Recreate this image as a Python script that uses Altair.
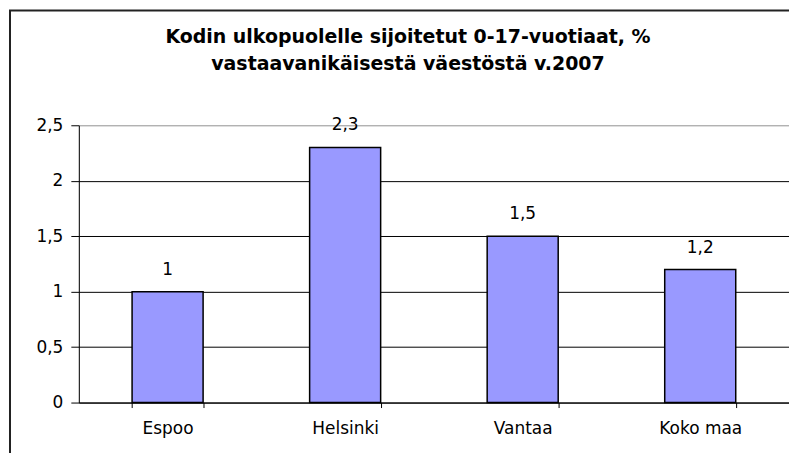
import altair as alt
import pandas as pd

categories = ["Espoo", "Helsinki", "Vantaa", "Koko maa"]
values = [1.0, 2.3, 1.5, 1.2]
labels = ["1", "2,3", "1,5", "1,2"]
title_lines = [
    "Kodin ulkopuolelle sijoitetut 0-17-vuotiaat, %",
    "vastaavanikäisestä väestöstä v.2007",
]

df = pd.DataFrame({"kunta": categories, "arvo": values, "teksti": labels})

FONT = "DejaVu Sans"
FS = 17

x_enc = alt.X(
    "kunta:N",
    sort=categories,
    title=None,
    scale=alt.Scale(paddingInner=0.6, paddingOuter=0.3),
    axis=alt.Axis(
        labelAngle=0,
        labelFont=FONT,
        labelFontSize=FS,
        labelColor="black",
        labelPadding=13,
        tickBand="extent",
        tickSize=5,
        tickColor="black",
        domainColor="black",
        grid=False,
    ),
)
y_enc = alt.Y(
    "arvo:Q",
    title=None,
    scale=alt.Scale(domain=[0, 2.5], nice=False),
    axis=alt.Axis(
        values=[0, 0.5, 1, 1.5, 2, 2.5],
        labelExpr="replace(toString(datum.value), '.', ',')",
        labelFont=FONT,
        labelFontSize=FS,
        labelColor="black",
        labelPadding=8,
        tickSize=8,
        tickColor="black",
        domainColor="black",
        grid=True,
        gridColor=alt.condition("datum.value >= 2.5", alt.value("#a0a0a0"), alt.value("black")),
        gridWidth=1,
        gridOpacity=1,
    ),
)

base = alt.Chart(df)

bars = base.mark_bar(color="#9999ff", stroke="black", strokeWidth=1.5).encode(
    x=x_enc, y=y_enc
)

text = base.mark_text(
    font=FONT, fontSize=FS, color="black", dy=-17, baseline="alphabetic"
).encode(x=alt.X("kunta:N", sort=categories), y="arvo:Q", text="teksti:N")

tdf = pd.DataFrame({"rivi": title_lines})
title1 = alt.Chart(tdf.head(1)).mark_text(
    font=FONT, fontSize=19, fontWeight="bold", color="black",
    align="center", baseline="alphabetic",
).encode(x=alt.value(330), y=alt.value(-82), text="rivi:N")
title2 = alt.Chart(tdf.tail(1)).mark_text(
    font=FONT, fontSize=19, fontWeight="bold", color="black",
    align="center", baseline="alphabetic",
).encode(x=alt.value(330), y=alt.value(-55), text="rivi:N")

border = alt.Chart(df.head(1)).mark_rect(
    fill=None, stroke="#222222", strokeWidth=2
).encode(
    x=alt.value(-69), x2=alt.value(730), y=alt.value(-115), y2=alt.value(345)
)

chart = (
    alt.layer(bars, text, title1, title2, border)
    .properties(
        width=712,
        height=278,
        autosize=alt.AutoSizeParams(type="none"),
        padding={"left": 71, "top": 117, "right": 0, "bottom": 50},
    )
    .configure_view(fill="#c0c0c0", stroke="#a0a0a0")
    .configure(background="white")
)

chart.save("out.html", embed_options={"renderer": "svg", "actions": False})
